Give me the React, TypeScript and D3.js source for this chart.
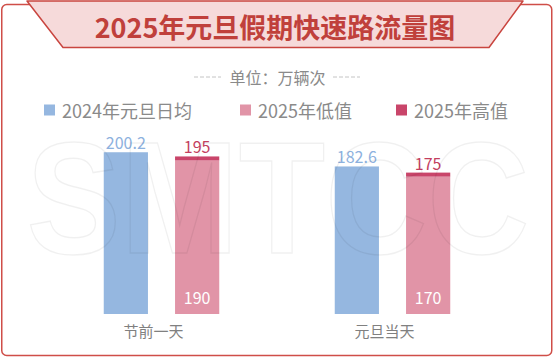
import React from 'react';
import * as d3 from 'd3';

const categories = ['节前一天', '元旦当天'];
const avg2024 = [200.2, 182.6];
const low2025 = [190, 170];
const high2025 = [195, 175];
const seriesNames = ['2024年元旦日均', '2025年低值', '2025年高值'];
const seriesColors = ['#95b7e0', '#e194a7', '#c9456a'];
const title = '2025年元旦假期快速路流量图';
const unitText = '单位：万辆次';
const watermark = 'SMTCC';

const W = 554;
const H = 357;
const FONT = '"Noto Sans CJK SC", "Noto Sans", sans-serif';

export default function App() {
  const x0 = d3.scaleBand<string>().domain(categories).range([46, 508]).paddingInner(0.5).paddingOuter(0.25);
  const x1 = d3.scaleBand<string>().domain(['a', 'b']).range([0, x0.bandwidth()]).paddingInner(0.38);
  const y = d3.scaleLinear().domain([0, 250]).range([314, 112]);

  const legendX = [44, 240, 396];

  return (
    <svg width={W} height={H} style={{ position: 'absolute', left: 0, top: 0, background: '#fff' }} fontFamily={FONT}>
      <rect x={0} y={0} width={W} height={H} fill="#fff" />
      {/* outer frame */}
      <rect x={1.75} y={4.5} width={550} height={351} rx={5} fill="#fff" stroke="#cf4e48" strokeWidth={1.5} />
      {/* title banner */}
      <path d="M27,1 L523,1 L489,47.5 L63,47.5 Z" fill="#f6dada" stroke="#c9453f" strokeWidth={1.5} strokeLinejoin="round" />
      <text x={275} y={26} textAnchor="middle" dominantBaseline="central" fontSize={27} fontWeight="bold" fill="#c0403b">{title}</text>

      {/* unit */}
      <line x1={194} x2={221} y1={77} y2={77} stroke="#c4c4c4" strokeWidth={1} strokeDasharray="4 2" />
      <line x1={333} x2={360} y1={77} y2={77} stroke="#c4c4c4" strokeWidth={1} strokeDasharray="4 2" />
      <text x={277.5} y={77} textAnchor="middle" dominantBaseline="central" fontSize={16} fill="#8a8a8a">{unitText}</text>

      {/* legend */}
      {seriesNames.map((s, i) => (
        <g key={s}>
          <rect x={legendX[i]} y={104.5} width={11} height={11} fill={seriesColors[i]} />
          <text x={legendX[i] + 18} y={110} dominantBaseline="central" fontSize={18} fill="#8a8a8a">{s}</text>
        </g>
      ))}

      {/* bars */}
      {categories.map((c, i) => {
        const gx = x0(c) as number;
        const bx = gx + (x1('a') as number);
        const px = gx + (x1('b') as number);
        const bw = x1.bandwidth();
        return (
          <g key={c}>
            <rect x={bx} y={y(avg2024[i])} width={bw} height={y(0) - y(avg2024[i])} fill={seriesColors[0]} />
            <rect x={px} y={y(low2025[i])} width={bw} height={y(0) - y(low2025[i])} fill={seriesColors[1]} />
            <rect x={px} y={y(high2025[i])} width={bw} height={y(low2025[i]) - y(high2025[i])} fill={seriesColors[2]} />
            <text x={bx + bw / 2} y={y(avg2024[i]) - 3} textAnchor="middle" fontSize={16} fill="#8db1de">{avg2024[i]}</text>
            <text x={px + bw / 2} y={y(high2025[i]) - 3} textAnchor="middle" fontSize={16} fill="#c43f5f">{high2025[i]}</text>
            <text x={px + bw / 2} y={y(0) - 10} textAnchor="middle" fontSize={16} fill="#ffffff">{low2025[i]}</text>
            <text x={gx + x0.bandwidth() / 2 - 8} y={337} textAnchor="middle" fontSize={15} fill="#808080">{c}</text>
          </g>
        );
      })}

      {/* watermark */}
      <text x={278} y={253} textAnchor="middle" fontSize={160} fontWeight="bold" fill="none" stroke="#000" strokeOpacity={0.06} strokeWidth={1.5} textLength={503} lengthAdjust="spacingAndGlyphs" fontFamily='"Liberation Sans", Arial, sans-serif'>{watermark}</text>
    </svg>
  );
}
